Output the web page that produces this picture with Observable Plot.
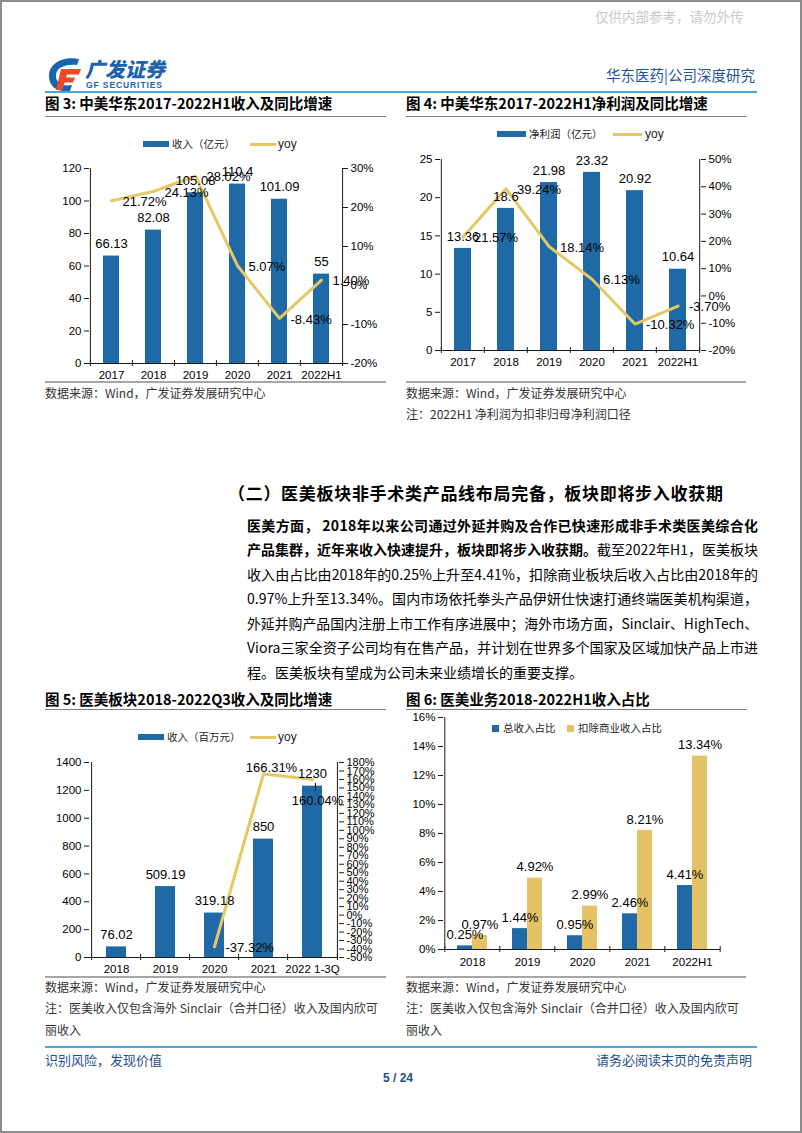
<!DOCTYPE html>
<html><head><meta charset="utf-8">
<script src="https://cdn.jsdelivr.net/npm/d3@7"></script>
<script src="https://cdn.jsdelivr.net/npm/@observablehq/plot@0.6"></script>
<style>
html,body{margin:0;padding:0;background:#fff}
body{width:802px;height:1133px;position:relative;overflow:hidden;font-family:'Noto Sans CJK SC','Noto Sans',sans-serif;color:#000}
.a{position:absolute;white-space:nowrap;line-height:1}
.t{font-size:14.5px;font-weight:bold}
.ul{position:absolute;height:1px;background:#7f7f7f}
.sl{position:absolute;height:2px;background:#a6a6a6}
.src{font-size:12px;color:#333}
.lg{font-size:10.5px;color:#222}
.yy{font-size:12px;font-family:'Liberation Sans',Arial,sans-serif;color:#222}
.jl{position:absolute;left:247px;width:511px;font-size:14px;line-height:20px;white-space:nowrap}
.jl>span{display:inline-block}
.chart{position:absolute}
</style></head>
<body>
<div style="position:absolute;left:0;top:0;width:802px;height:1133px;box-sizing:border-box;border:2px solid #8c8c8c"></div>
<div class="a" style="left:595px;top:10px;font-size:13.5px;color:#c9c9c9">仅供内部参考，请勿外传</div>

<!-- logo -->
<svg style="position:absolute;left:46px;top:56px" width="38" height="37" viewBox="0 0 38 37">
  <path d="M33 3 C16 0 3 8 3 20 C3 31 12 37 24 35 L26 29 C15 31 10 26 10 20 C10 12 18 8 31 9 Z" fill="#1b63b0"/>
  <path d="M15 13 L35 13 L33 18.5 L21 18.5 L20 21.5 L29 21.5 L27 26.5 L18.5 26.5 L16.5 34 L10 34 Z" fill="#ea4a2a"/>
</svg>
<div class="a" style="left:85px;top:59px;font-size:20px;font-weight:900;color:#1b63b0;font-style:italic">广发证券</div>
<div class="a" style="left:86px;top:81px;font-size:8.5px;font-weight:bold;color:#1b63b0;font-family:'Liberation Sans',Arial,sans-serif;letter-spacing:0.9px">GF SECURITIES</div>
<div class="a" style="right:47px;top:68px;font-size:14.5px;color:#1f5597">华东医药|公司深度研究</div>
<div style="position:absolute;left:45px;top:91px;width:712px;height:2px;background:#4ea6dc"></div>

<!-- fig 3 / 4 titles -->
<div class="a t" style="left:45px;top:96px">图 3: 中美华东2017-2022H1收入及同比增速</div>
<div class="ul" style="left:45px;top:116px;width:341px"></div>
<div class="a t" style="left:406px;top:96px">图 4: 中美华东2017-2022H1净利润及同比增速</div>
<div class="ul" style="left:406px;top:116px;width:341px"></div>

<!-- legends 3 -->
<div style="position:absolute;left:143px;top:141px;width:26px;height:6px;background:#1f6aa6"></div>
<div class="a lg" style="left:172px;top:138.5px">收入（亿元）</div>
<div style="position:absolute;left:250px;top:142.5px;width:26px;height:3px;background:#e5c763"></div>
<div class="a yy" style="left:278px;top:138px">yoy</div>
<!-- legends 4 -->
<div style="position:absolute;left:497px;top:131px;width:29px;height:6px;background:#1f6aa6"></div>
<div class="a lg" style="left:529px;top:128.5px">净利润（亿元）</div>
<div style="position:absolute;left:613px;top:132.5px;width:29px;height:3px;background:#e5c763"></div>
<div class="a yy" style="left:645px;top:128px">yoy</div>

<div id="c3" class="chart" style="left:40px;top:150px"></div>
<div id="c4" class="chart" style="left:400px;top:140px"></div>

<div class="sl" style="left:45px;top:381px;width:341px"></div>
<div class="a src" style="left:45px;top:387px">数据来源：Wind，广发证券发展研究中心</div>
<div class="sl" style="left:406px;top:381px;width:340px"></div>
<div class="a src" style="left:406px;top:387px">数据来源：Wind，广发证券发展研究中心</div>
<div class="a src" style="left:406px;top:408px">注：2022H1 净利润为扣非归母净利润口径</div>

<!-- body text -->
<div class="a" style="left:228px;top:484px;font-size:17px;font-weight:bold;letter-spacing:0.7px">（二）医美板块非手术类产品线布局完备，板块即将步入收获期</div>
<div class="jl" style="top:515px"><span><b>医美方面， 2018年以来公司通过外延并购及合作已快速形成非手术类医美综合化</b></span></div>
<div class="jl" style="top:539px"><span><b>产品集群，近年来收入快速提升，板块即将步入收获期。</b>截至2022年H1，医美板块</span></div>
<div class="jl" style="top:564px"><span>收入由占比由2018年的0.25%上升至4.41%，扣除商业板块后收入占比由2018年的</span></div>
<div class="jl" style="top:588px"><span>0.97%上升至13.34%。国内市场依托拳头产品伊妍仕快速打通终端医美机构渠道，</span></div>
<div class="jl" style="top:613px"><span>外延并购产品国内注册上市工作有序进展中；海外市场方面，Sinclair、HighTech、</span></div>
<div class="jl" style="top:637px"><span>Viora三家全资子公司均有在售产品，并计划在世界多个国家及区域加快产品上市进</span></div>
<div class="jl nj" style="top:662px"><span>程。医美板块有望成为公司未来业绩增长的重要支撑。</span></div>

<!-- fig 5 / 6 titles -->
<div class="a t" style="left:45px;top:692px">图 5: 医美板块2018-2022Q3收入及同比增速</div>
<div class="ul" style="left:45px;top:709px;width:341px"></div>
<div class="a t" style="left:406px;top:692px">图 6: 医美业务2018-2022H1收入占比</div>
<div class="ul" style="left:406px;top:709px;width:341px"></div>

<!-- legend 5 -->
<div style="position:absolute;left:138px;top:734px;width:26px;height:6px;background:#1f6aa6"></div>
<div class="a lg" style="left:167px;top:731.5px">收入（百万元）</div>
<div style="position:absolute;left:250px;top:735.5px;width:26px;height:3px;background:#e5c763"></div>
<div class="a yy" style="left:278px;top:731px">yoy</div>

<div id="c5" class="chart" style="left:40px;top:745px"></div>
<div id="c6" class="chart" style="left:400px;top:705px"></div>

<!-- legend 6 (inside plot) -->
<div style="position:absolute;left:492px;top:725px;width:7px;height:7px;background:#1f6aa6"></div>
<div class="a lg" style="left:503px;top:722.5px">总收入占比</div>
<div style="position:absolute;left:567px;top:725px;width:7px;height:7px;background:#e3c365"></div>
<div class="a lg" style="left:578px;top:722.5px">扣除商业收入占比</div>

<div class="sl" style="left:45px;top:976px;width:341px"></div>
<div class="a src" style="left:45px;top:981px">数据来源：Wind，广发证券发展研究中心</div>
<div class="a src" style="left:45px;top:1002px">注：医美收入仅包含海外 Sinclair（合并口径）收入及国内欣可</div>
<div class="a src" style="left:45px;top:1024px">丽收入</div>
<div class="sl" style="left:406px;top:976px;width:340px"></div>
<div class="a src" style="left:406px;top:981px">数据来源：Wind，广发证券发展研究中心</div>
<div class="a src" style="left:406px;top:1002px">注：医美收入仅包含海外 Sinclair（合并口径）收入及国内欣可</div>
<div class="a src" style="left:406px;top:1024px">丽收入</div>

<!-- footer -->
<div style="position:absolute;left:45px;top:1046px;width:712px;height:2px;background:#4ea6dc"></div>
<div class="a" style="left:45px;top:1053px;font-size:13px;color:#1f4e8c">识别风险，发现价值</div>
<div class="a" style="right:50px;top:1053px;font-size:13px;color:#1f4e8c">请务必阅读末页的免责声明</div>
<div class="a" style="left:380px;top:1072px;width:36px;text-align:center;font-size:12px;font-weight:bold;color:#1f4e8c;font-family:'Liberation Sans',Arial,sans-serif">5 / 24</div>

<script>
// ---------- data ----------
const years3 = ["2017","2018","2019","2020","2021","2022H1"];
const revenue3 = [66.13, 82.08, 105.08, 110.4, 101.09, 55];
const revenueYoy3 = [21.72, 24.13, 28.02, 5.07, -8.43, 1.40];
const leftTicks3 = [0, 20, 40, 60, 80, 100, 120];
const rightTicks3 = [-20, -10, 0, 10, 20, 30];

const years4 = ["2017","2018","2019","2020","2021","2022H1"];
const profit4 = [13.36, 18.6, 21.98, 23.32, 20.92, 10.64];
const profitYoy4 = [21.57, 39.24, 18.14, 6.13, -10.32, -3.70];
const leftTicks4 = [0, 5, 10, 15, 20, 25];
const rightTicks4 = [-20, -10, 0, 10, 20, 30, 40, 50];

const years5 = ["2018","2019","2020","2021","2022 1-3Q"];
const aesthRevenue5 = [76.02, 509.19, 319.18, 850, 1230];
const yoyYears5 = ["2020","2021","2022 1-3Q"];
const aesthYoy5 = [-37.32, 166.31, 160.04];
const leftTicks5 = [0, 200, 400, 600, 800, 1000, 1200, 1400];
const rightTicks5 = [-50,-40,-30,-20,-10,0,10,20,30,40,50,60,70,80,90,100,110,120,130,140,150,160,170,180];

const years6 = ["2018","2019","2020","2021","2022H1"];
const shareTotal6 = [0.25, 1.44, 0.95, 2.46, 4.41];
const shareExCommerce6 = [0.97, 4.92, 2.99, 8.21, 13.34];
const ticks6 = [0, 2, 4, 6, 8, 10, 12, 14, 16];

// ---------- styles ----------
const BLUE = "#1f6aa6", YEL = "#e5c763", YEL6 = "#e3c365", AX = "#1a1a1a";
const NUM = "'Liberation Sans', Arial, Helvetica, sans-serif";

function dualChart(o) {
  const {cats, vals, yoyCats, yoy, yDomain, yTicks, rDomain, rTicks,
         width, height, ml, mr, mt, mb, barW, rightFont, yoyLabelMarks} = o;
  const pw = width - ml - mr, ph = height - mt - mb;
  const step = pw / cats.length;
  const p = 1 - barW / step;
  const span = yDomain[1] - yDomain[0], rspan = rDomain[1] - rDomain[0];
  const f = v => (v - rDomain[0]) / rspan * span + yDomain[0];
  const inv = d => (d - yDomain[0]) / span * rspan + rDomain[0];
  const tk = span * 3 / ph;
  const barData = cats.map((c, i) => ({c, v: vals[i]}));
  const lineData = yoyCats.map((c, i) => ({c, v: yoy[i], t: f(yoy[i])}));
  const last = cats[cats.length - 1];
  const marks = [
    Plot.barY(barData, {x: "c", y: "v", fill: BLUE}),
    Plot.ruleX([cats[0]], {dx: -step / 2, stroke: AX}),
    Plot.ruleX([last], {dx: step / 2, stroke: AX}),
    Plot.ruleY([yDomain[0]], {stroke: AX}),
    Plot.ruleX(cats, {dx: -step / 2, y1: yDomain[0] - tk, y2: yDomain[0] + tk, stroke: AX}),
    Plot.ruleX([last], {dx: step / 2, y1: yDomain[0] - tk, y2: yDomain[0] + tk, stroke: AX}),
    Plot.axisY(yTicks, {anchor: "left", tickSize: 5, tickPadding: 3, tickFormat: d => String(d), label: null, fontSize: 11.5, stroke: AX}),
    Plot.axisY(rTicks.map(f), {anchor: "right", tickSize: 5, tickPadding: 3, tickFormat: d => Math.round(inv(d)) + "%", label: null, fontSize: rightFont, stroke: AX}),
    Plot.axisX({tickSize: 0, tickPadding: 7, label: null, fontSize: 11.5}),
    Plot.lineY(lineData, {x: "c", y: "t", stroke: YEL, strokeWidth: 3}),
    Plot.text(barData, {x: "c", y: "v", text: d => String(d.v), dy: -12, fontSize: 13, fill: "#000"}),
    ...yoyLabelMarks(lineData, f, span / ph)
  ];
  return Plot.plot({
    width, height, marginLeft: ml, marginRight: mr, marginTop: mt, marginBottom: mb,
    style: {fontFamily: NUM, fontSize: "11.5px", color: "#000", background: "transparent", overflow: "visible"},
    x: {domain: cats, paddingInner: p, paddingOuter: p / 2, label: null},
    y: {domain: yDomain, label: null},
    marks
  });
}
const pct = d => d.v.toFixed(2) + "%";
const simpleYoy = (lineData) => [
  Plot.text(lineData, {x: "c", y: "t", text: pct, textAnchor: "start", dx: 11, dy: 1, fontSize: 13, fill: "#000"})
];

document.getElementById("c3").appendChild(dualChart({
  cats: years3, vals: revenue3, yoyCats: years3, yoy: revenueYoy3,
  yDomain: [0, 120], yTicks: leftTicks3, rDomain: [-20, 30], rTicks: rightTicks3,
  width: 340, height: 240, ml: 49, mr: 38, mt: 18, mb: 27, barW: 16, rightFont: 11.5,
  yoyLabelMarks: simpleYoy
}));

document.getElementById("c4").appendChild(dualChart({
  cats: years4, vals: profit4, yoyCats: years4, yoy: profitYoy4,
  yDomain: [0, 25], yTicks: leftTicks4, rDomain: [-20, 50], rTicks: rightTicks4,
  width: 340, height: 240, ml: 40, mr: 40, mt: 19, mb: 30, barW: 17, rightFont: 11.5,
  yoyLabelMarks: simpleYoy
}));

document.getElementById("c5").appendChild(dualChart({
  cats: years5, vals: aesthRevenue5, yoyCats: yoyYears5, yoy: aesthYoy5,
  yDomain: [0, 1400], yTicks: leftTicks5, rDomain: [-50, 180], rTicks: rightTicks5,
  width: 340, height: 240, ml: 49, mr: 42, mt: 17, mb: 28, barW: 20, rightFont: 11,
  yoyLabelMarks: (ld, f, k) => [
    Plot.text(ld.slice(0, 1), {x: "c", y: "t", text: pct, textAnchor: "start", dx: 11, dy: 1, fontSize: 13, fill: "#000"}),
    Plot.text(ld.slice(1, 2), {x: "c", y: "t", text: pct, textAnchor: "middle", dx: 8, dy: -6, fontSize: 13, fill: "#000"}),
    Plot.text(ld.slice(2, 3), {x: "c", y: "t", text: pct, textAnchor: "middle", dx: 5, dy: 21, fontSize: 13, fill: "#000"}),
    Plot.ruleX(ld.slice(2, 3), {x: "c", y1: d => d.t - 4 * k, y2: d => d.t - 12 * k, dx: 3, stroke: "#000"})
  ]
}));

(function () {
  const width = 340, height = 270, ml = 43, mr = 20, mt = 12, mb = 26;
  const pw = width - ml - mr, ph = height - mt - mb;
  const step = pw / years6.length, bw = 30, p = 1 - bw / step;
  const tk = 16 * 3 / ph;
  const d6 = years6.map((c, i) => ({c, a: shareTotal6[i], b: shareExCommerce6[i]}));
  const last = years6[years6.length - 1];
  const chart = Plot.plot({
    width, height, marginLeft: ml, marginRight: mr, marginTop: mt, marginBottom: mb,
    style: {fontFamily: NUM, fontSize: "11.5px", color: "#000", background: "transparent", overflow: "visible"},
    x: {domain: years6, paddingInner: p, paddingOuter: p / 2, label: null},
    y: {domain: [0, 16], label: null},
    marks: [
      Plot.barY(d6, {x: "c", y: "a", fill: BLUE, insetRight: bw / 2}),
      Plot.barY(d6, {x: "c", y: "b", fill: YEL6, insetLeft: bw / 2}),
      Plot.ruleX([years6[0]], {dx: -step / 2, stroke: AX}),
      Plot.ruleY([0], {stroke: AX}),
      Plot.ruleX(years6, {dx: -step / 2, y1: -tk, y2: tk, stroke: AX}),
      Plot.ruleX([last], {dx: step / 2, y1: -tk, y2: tk, stroke: AX}),
      Plot.axisY(ticks6, {anchor: "left", tickSize: 5, tickPadding: 3, tickFormat: d => d + "%", label: null, fontSize: 11.5, stroke: AX}),
      Plot.axisX({tickSize: 0, tickPadding: 8, label: null, fontSize: 11.5}),
      Plot.text(d6, {x: "c", y: "a", text: d => d.a.toFixed(2) + "%", dx: -bw / 4, dy: -11, fontSize: 13, fill: "#000"}),
      Plot.text(d6, {x: "c", y: "b", text: d => d.b.toFixed(2) + "%", dx: bw / 4, dy: -11, fontSize: 13, fill: "#000"})
    ]
  });
  document.getElementById("c6").appendChild(chart);
})();

// justify paragraph lines to full width
document.querySelectorAll(".jl").forEach(el => {
  const W = 511;
  const sp = el.firstElementChild;
  let w = sp.getBoundingClientRect().width;
  if (w > W) { el.style.fontSize = (14 * W / w) + "px"; w = sp.getBoundingClientRect().width; }
  if (el.classList.contains("nj")) return;
  const n = sp.textContent.length;
  if (n > 1 && w < W) sp.style.letterSpacing = ((W - w) / (n - 1)) + "px";
});
</script>
</body></html>
